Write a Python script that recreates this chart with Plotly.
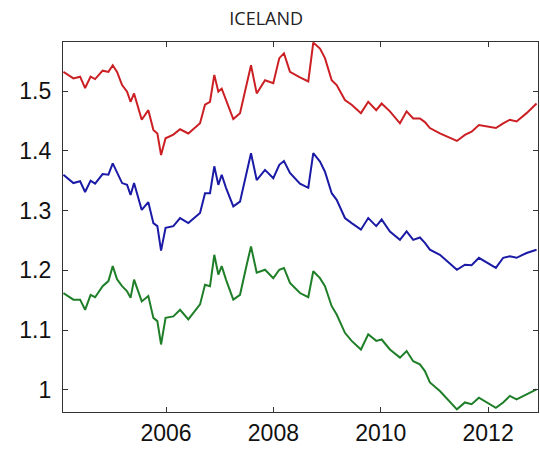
import plotly.graph_objects as go

# Time axis (decimal years), shared by all three series
years = [
    2004.087, 2004.274, 2004.399, 2004.492, 2004.594, 2004.678, 2004.818, 2004.926,
    2005.007, 2005.087, 2005.181, 2005.274, 2005.339, 2005.404, 2005.547, 2005.670,
    2005.764, 2005.838, 2005.907, 2005.991, 2006.136, 2006.261, 2006.415, 2006.633,
    2006.726, 2006.819, 2006.899, 2006.974, 2007.037, 2007.117, 2007.253, 2007.378,
    2007.503, 2007.583, 2007.689, 2007.844, 2007.998, 2008.110, 2008.197, 2008.309,
    2008.495, 2008.650, 2008.743, 2008.868, 2008.961, 2009.086, 2009.179, 2009.333,
    2009.458, 2009.631, 2009.767, 2009.916, 2010.017, 2010.171, 2010.358, 2010.482,
    2010.605, 2010.730, 2010.823, 2010.916, 2011.102, 2011.289, 2011.419, 2011.568,
    2011.693, 2011.829, 2011.987, 2012.145, 2012.281, 2012.406, 2012.531, 2012.717,
    2012.903,
]

upper = [
    1.532, 1.521, 1.524, 1.505, 1.524, 1.520, 1.534, 1.532,
    1.543, 1.532, 1.510, 1.499, 1.482, 1.496, 1.452, 1.468,
    1.435, 1.429, 1.393, 1.421, 1.427, 1.436, 1.429, 1.446,
    1.477, 1.482, 1.527, 1.499, 1.504, 1.485, 1.453, 1.463,
    1.510, 1.543, 1.496, 1.518, 1.513, 1.555, 1.563, 1.532,
    1.523, 1.516, 1.581, 1.571, 1.555, 1.518, 1.510, 1.485,
    1.477, 1.463, 1.482, 1.468, 1.479, 1.466, 1.446, 1.466,
    1.454, 1.454, 1.448, 1.438, 1.429, 1.421, 1.4165, 1.4265,
    1.432, 1.443, 1.4405, 1.438, 1.446, 1.452, 1.449, 1.463,
    1.479,
]

middle = [
    1.360, 1.346, 1.349, 1.331, 1.350, 1.345, 1.361, 1.360,
    1.379, 1.363, 1.346, 1.343, 1.326, 1.346, 1.301, 1.314,
    1.279, 1.274, 1.233, 1.271, 1.274, 1.2875, 1.279, 1.296,
    1.329, 1.329, 1.374, 1.343, 1.360, 1.338, 1.307, 1.315,
    1.365, 1.396, 1.351, 1.368, 1.354, 1.3765, 1.383, 1.363,
    1.345, 1.338, 1.396, 1.382, 1.365, 1.329, 1.318, 1.2875,
    1.279, 1.268, 1.2875, 1.274, 1.285, 1.265, 1.251, 1.265,
    1.251, 1.255, 1.246, 1.2346, 1.226, 1.212, 1.201, 1.2095,
    1.2085, 1.221, 1.212, 1.204, 1.221, 1.2235, 1.221, 1.229,
    1.2345,
]

lower = [
    1.162, 1.151, 1.151, 1.134, 1.159, 1.155, 1.1735, 1.182,
    1.207, 1.185, 1.1735, 1.165, 1.154, 1.1845, 1.148, 1.157,
    1.1205, 1.115, 1.076, 1.1205, 1.123, 1.134, 1.118, 1.143,
    1.176, 1.1735, 1.226, 1.193, 1.207, 1.1845, 1.151, 1.159,
    1.2095, 1.240, 1.196, 1.201, 1.187, 1.201, 1.204, 1.179,
    1.162, 1.155, 1.1985, 1.187, 1.1735, 1.140, 1.126, 1.0955,
    1.082, 1.0676, 1.093, 1.082, 1.0843, 1.0676, 1.054, 1.065,
    1.048, 1.0426, 1.0315, 1.0125, 0.998, 0.979, 0.9675, 0.979,
    0.976, 0.987, 0.979, 0.970, 0.979, 0.990, 0.984, 0.9925,
    1.001,
]

x_ticks = [2006, 2008, 2010, 2012]
y_ticks = [1.0, 1.1, 1.2, 1.3, 1.4, 1.5]
y_tick_text = ["1", "1.1", "1.2", "1.3", "1.4", "1.5"]

series = [
    (upper, "#cc1f24"),
    (middle, "#1a1aa6"),
    (lower, "#1f7f28"),
]

fig = go.Figure()
for values, color in series:
    fig.add_trace(go.Scatter(
        x=years, y=values, mode="lines",
        line=dict(color=color, width=2),
        showlegend=False, hoverinfo="skip",
    ))

axis_common = dict(
    showgrid=False, zeroline=False,
    showline=True, linecolor="#333333", linewidth=1.2, mirror="ticks",
    ticks="inside", ticklen=5, tickcolor="#333333", tickwidth=1,
    tickfont=dict(family="Liberation Sans, Arial, sans-serif", size=23, color="#111111"),
)

fig.update_xaxes(
    range=[2004.08, 2012.93],
    tickvals=x_ticks, ticktext=[str(t) for t in x_ticks],
    ticklabelstandoff=0,
    **axis_common,
)
fig.update_yaxes(
    range=[0.963, 1.582],
    tickvals=y_ticks, ticktext=y_tick_text,
    ticklabelstandoff=6,
    **axis_common,
)

fig.update_layout(
    width=540, height=460,
    margin=dict(l=63, r=2, t=42, b=48),
    paper_bgcolor="white", plot_bgcolor="white",
    title=dict(
        text="ICELAND",
        font=dict(family="Open Sans, sans-serif", size=18, color="#222222"),
        x=0.493, xref="container", xanchor="center",
        y=1 - 18.5 / 460, yref="container", yanchor="middle",
    ),
)

fig.write_html("out.html")
